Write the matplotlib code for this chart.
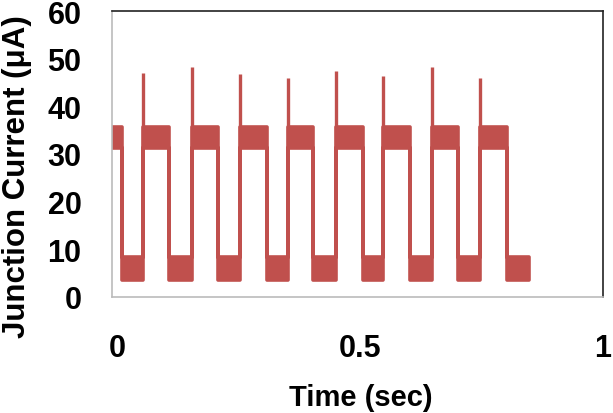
import numpy as np
import matplotlib.pyplot as plt

plt.rcParams['font.family'] = ['Liberation Sans', 'DejaVu Sans']
plt.rcParams['font.weight'] = 'bold'

# edge times (sec)
t_start = -0.01
t_end = 0.848
fall_t = [0.010, 0.107, 0.208, 0.309, 0.403, 0.506, 0.603, 0.702, 0.802]
rise_t = [0.0535, 0.154, 0.253, 0.352, 0.451, 0.547, 0.648, 0.747]
spike_peak = [47.0, 48.2, 46.7, 45.9, 47.4, 46.3, 48.2, 45.9]

# noise band of the two levels (uA)
high_band = (31.2, 35.6)
low_band = (3.5, 8.3)

red = '#C0504D'

edges = [t_start] + sorted(fall_t + rise_t) + [t_end]
lower, upper = [], []
for i in range(len(edges) - 1):
    band = high_band if i % 2 == 0 else low_band
    lower.append(band[0])
    upper.append(band[1])
lower.append(lower[-1])
upper.append(upper[-1])

fig = plt.figure(figsize=(6.13, 4.14), dpi=100)
ax = fig.add_axes([112 / 613, 1 - 298 / 414, 491 / 613, 286 / 414])

ax.fill_between(edges, lower, upper, step='post', color=red,
                edgecolor=red, linewidth=2.6)
ax.vlines(rise_t, high_band[0], spike_peak, color=red, linewidth=2.4)

ax.set_xlim(-0.0103, 1.0)
ax.set_ylim(0, 60)
ax.set_xticks([0, 0.5, 1])
ax.set_xticklabels(['0', '0.5', '1'])
ax.set_yticks(range(0, 61, 10))
ax.tick_params(axis='both', length=0, labelsize=22)
ax.tick_params(axis='y', pad=22)
ax.tick_params(axis='x', pad=26)

for side in ['top', 'right']:
    ax.spines[side].set_color('#222222')
    ax.spines[side].set_linewidth(1.2)
for side in ['left', 'bottom']:
    ax.spines[side].set_color('#bbbbbb')
    ax.spines[side].set_linewidth(1.2)

ax.set_xlabel('Time (sec)', fontsize=21, fontweight='bold')
ax.set_ylabel('Junction Current (μA)', fontsize=22.5, fontweight='bold')
ax.xaxis.set_label_coords(0.506, -0.30)
ax.yaxis.set_label_coords(-0.163, 0.425)

fig.savefig('out.png', dpi=100)
